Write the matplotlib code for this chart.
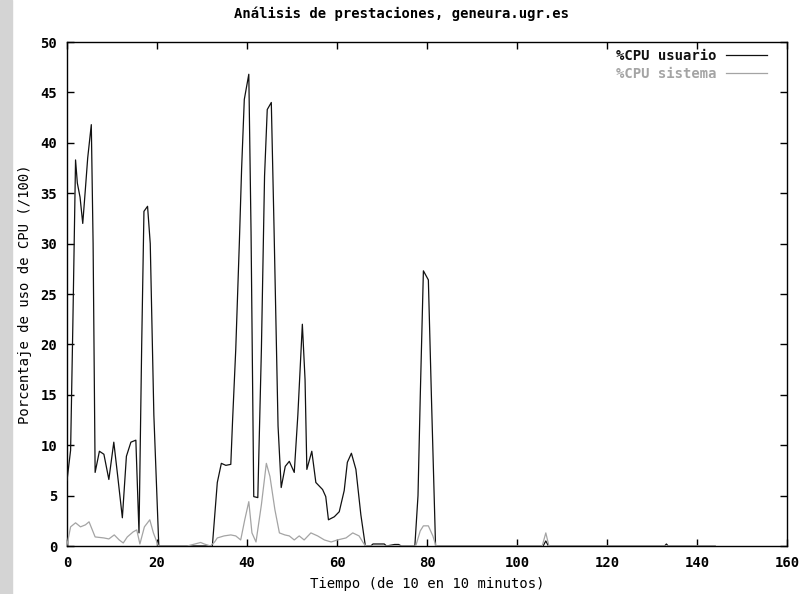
import matplotlib.pyplot as plt
from matplotlib.patches import Rectangle

# %CPU usuario (black) - time in units of 10 minutes
user_t = [0, 0.8, 1.3, 1.9, 2.3, 2.9, 3.5, 4.1, 4.6, 5.4, 5.8, 6.25, 7.2, 8.2, 9.3,
          10.4, 11.3, 12.3, 13.2, 14.2, 15.3, 16.0, 16.6, 17.1, 17.9, 18.5, 19.3, 20.4,
          32.3, 33.4, 34.3, 35.3, 36.4, 36.8, 37.5, 38.3, 38.8, 39.4, 40.4, 40.9, 41.5,
          42.4, 43.2, 43.9, 44.5, 45.4, 46.0, 46.9, 47.6, 48.5, 49.4, 50.5, 51.3, 52.3,
          52.9, 53.3, 54.4, 55.3, 56.8, 57.5, 58.1, 59.4, 60.5, 61.6, 62.3, 63.2, 64.2,
          65.3, 66.3, 67.5, 68.0, 70.5, 71.0, 72.8, 73.7, 74.3, 77.3, 78.0, 78.5, 79.2,
          80.3, 81.0, 81.9, 105.8, 106.4, 107.0, 132.8, 133.2, 133.6, 144]
user_v = [6.5, 9.5, 22, 38.3, 36, 34.6, 32, 35.5, 38.5, 41.8, 30, 7.3, 9.4, 9.1, 6.6,
          10.3, 6.8, 2.8, 8.9, 10.3, 10.5, 1.3, 20, 33.2, 33.7, 30, 13, 0,
          0, 6.3, 8.2, 8.0, 8.1, 12.5, 19.5, 30.1, 37.4, 44.3, 46.8, 31.1, 4.9,
          4.8, 19.5, 36.7, 43.3, 44.0, 31.7, 11.9, 5.8, 7.9, 8.4, 7.3, 13, 22,
          16.5, 7.6, 9.4, 6.3, 5.6, 4.9, 2.6, 2.9, 3.4, 5.5, 8.3, 9.2, 7.6,
          3.1, 0, 0, 0.2, 0.2, 0, 0.15, 0.15, 0, 0, 5, 14.8, 27.3,
          26.4, 14.5, 0, 0, 0.5, 0, 0, 0.2, 0, 0]

# %CPU sistema (gray)
sys_t = [0, 0.8, 1.9, 3.0, 4.1, 4.9, 6.25, 8.2, 9.3, 10.5, 11.6, 12.5, 13.4, 14.7,
         15.5, 16.2, 17.2, 18.4, 19.2, 20.3, 26.7, 28.0, 29.7, 30.5, 31.9, 32.8, 33.4,
         34.9, 36.4, 37.5, 38.6, 39.5, 40.4, 41.1, 42.0, 43.2, 44.3, 45.1, 46.2, 47.2,
         48.4, 49.4, 50.5, 51.6, 52.7, 54.2, 55.7, 57.2, 58.7, 60.1, 62.0, 63.5, 64.9,
         66.0, 66.5, 77.5, 78.5, 79.2, 80.3, 81.3, 82.0, 105.6, 106.4, 107.1, 144]
sys_v = [0.1, 1.9, 2.3, 1.9, 2.1, 2.4, 0.9, 0.8, 0.7, 1.1, 0.6, 0.3, 0.9, 1.4,
         1.6, 0.2, 1.9, 2.6, 1.3, 0, 0, 0.15, 0.35, 0.2, 0, 0.4, 0.8,
         1.0, 1.1, 1.0, 0.6, 2.6, 4.4, 1.3, 0.4, 4.1, 8.2, 6.9, 3.6, 1.3,
         1.1, 1.0, 0.6, 1.0, 0.6, 1.3, 1.0, 0.6, 0.4, 0.6, 0.8, 1.3, 1.0,
         0.2, 0, 0, 1.5, 2.0, 2.0, 1.0, 0, 0, 1.3, 0, 0]

plt.rcParams['font.family'] = 'DejaVu Sans Mono'
plt.rcParams['font.weight'] = 'bold'

fig = plt.figure(figsize=(8.04, 5.94), dpi=100)
fig.patches.append(Rectangle((0, 0), 12 / 804, 1, transform=fig.transFigure,
                             color='#d4d4d4', zorder=0))
ax = fig.add_axes([67 / 804, 1 - 546 / 594, 720 / 804, 504 / 594])

ax.plot(user_t, user_v, color='#111111', linewidth=0.9, label='%CPU usuario', zorder=3)
ax.plot(sys_t, sys_v, color='#a4a4a4', linewidth=0.9, label='%CPU sistema', zorder=4)

ax.set_xlim(0, 160)
ax.set_ylim(0, 50)
ax.set_xticks(range(0, 161, 20))
ax.set_yticks(range(0, 51, 5))
ax.tick_params(direction='in', length=5, width=1, top=True, right=True,
               labelsize=10, pad=7)
for s in ax.spines.values():
    s.set_linewidth(1)

# gnuplot centres the title on the whole canvas
fig.text(0.5, 1 - 14 / 594, 'Análisis de prestaciones, geneura.ugr.es',
         ha='center', va='center', fontsize=10)
ax.set_xlabel('Tiempo (de 10 en 10 minutos)', fontsize=10, labelpad=5)
ax.set_ylabel('Porcentaje de uso de CPU (/100)', fontsize=10, va='center')
ax.yaxis.set_label_coords(-42 / 720, 0.5)

leg = ax.legend(loc='upper right', bbox_to_anchor=(1 - 13 / 720, 1),
                frameon=False, markerfirst=False,
                fontsize=10, handlelength=2.95, handletextpad=0.72,
                borderaxespad=0.3, borderpad=0.2, labelspacing=0.3)
for txt, col in zip(leg.get_texts(), ['#111111', '#a4a4a4']):
    txt.set_color(col)

plt.savefig('out.png', dpi=100)
